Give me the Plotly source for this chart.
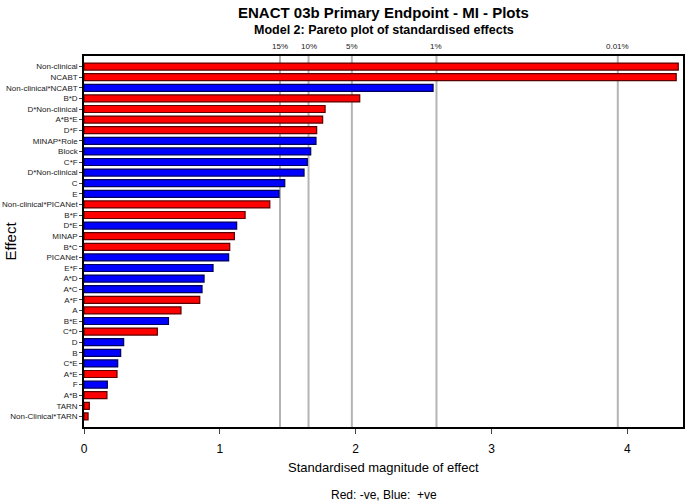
import plotly.graph_objects as go

effects = ["Non-clinical", "NCABT", "Non-clinical*NCABT", "B*D", "D*Non-clinical",
           "A*B*E", "D*F", "MINAP*Role", "Block", "C*F", "D*Non-clinical", "C", "E",
           "Non-clinical*PICANet", "B*F", "D*E", "MINAP", "B*C", "PICANet", "E*F",
           "A*D", "A*C", "A*F", "A", "B*E", "C*D", "D", "B", "C*E", "A*E", "F",
           "A*B", "TARN", "Non-Clinical*TARN"]
# signed standardised effects (red = negative, blue = positive)
values = [-4.375, -4.36, 2.57, -2.03, -1.775, -1.757, -1.713, 1.708, 1.669, 1.644,
          1.62, 1.478, 1.436, -1.368, -1.186, 1.124, -1.107, -1.073, 1.065, 0.95,
          0.884, 0.869, -0.852, -0.714, 0.622, -0.54, 0.292, 0.27, 0.248, -0.243,
          0.172, -0.169, -0.039, -0.03]
ref_levels = ["15%", "10%", "5%", "1%", "0.01%"]
ref_values = [1.443, 1.653, 1.972, 2.595, 3.93]

pos = list(range(len(effects)))
mags = [abs(v) for v in values]
fill = ["#FF0000" if v < 0 else "#0000FF" for v in values]
edge = ["#5a0000" if v < 0 else "#00005a" for v in values]

font = "Liberation Sans, Arial, sans-serif"

fig = go.Figure()
fig.add_trace(go.Bar(
    x=mags, y=pos, orientation="h", width=0.66,
    marker=dict(color=fill, line=dict(color=edge, width=1.2)),
    hoverinfo="skip", showlegend=False,
))

shapes = []
annotations = []
for lab, v in zip(ref_levels, ref_values):
    shapes.append(dict(type="line", xref="x", yref="paper", x0=v, x1=v, y0=0, y1=1,
                       line=dict(color="#b4b4b4", width=2), layer="below"))
    annotations.append(dict(x=v, y=1, xref="x", yref="paper", text=lab, showarrow=False,
                            yanchor="middle", yshift=10, font=dict(size=8, color="#222")))

annotations += [
    dict(x=0.5, y=1, xref="paper", yref="paper", yshift=44, yanchor="middle",
         text="<b>ENACT 03b Primary Endpoint - MI - Plots</b>", showarrow=False,
         font=dict(size=15, color="black")),
    dict(x=0.5, y=1, xref="paper", yref="paper", yshift=26, yanchor="middle",
         text="<b>Model 2: Pareto plot of standardised effects</b>", showarrow=False,
         font=dict(size=12.5, color="black")),
    dict(x=0.5, y=0, xref="paper", yref="paper", yshift=-40, yanchor="middle",
         text="Standardised magnitude of effect", showarrow=False,
         font=dict(size=13, color="black")),
    dict(x=0.5, y=0, xref="paper", yref="paper", yshift=-68, yanchor="middle",
         text="Red: -ve, Blue:  +ve", showarrow=False,
         font=dict(size=12, color="black")),
    dict(x=0, y=0.5, xref="paper", yref="paper", xshift=-74, xanchor="center",
         yanchor="middle", text="Effect", textangle=-90, showarrow=False,
         font=dict(size=15, color="black")),
]

fig.update_layout(
    width=685, height=504,
    margin=dict(l=84, r=2, t=56, b=77, autoexpand=False),
    paper_bgcolor="white", plot_bgcolor="white",
    font=dict(family=font, color="black"),
    shapes=shapes, annotations=annotations,
    bargap=0.3,
)
fig.update_xaxes(range=[0, 4.41], tickvals=[0, 1, 2, 3, 4], ticks="outside", ticklen=5,
                 showline=True, linecolor="black", linewidth=1.5, mirror=True,
                 showgrid=False, zeroline=False, tickfont=dict(size=12),
                 ticklabelstandoff=5, automargin=False)
fig.update_yaxes(range=[34, -1], tickvals=pos, ticktext=effects, ticks="outside",
                 ticklen=3, showline=True, linecolor="black", linewidth=1.5, mirror=True,
                 showgrid=False, zeroline=False, tickfont=dict(size=8, color="#222"),
                 automargin=False)

# remove the browser's default body margin so the figure fills the window exactly
fig.write_html("out.html", config={"displayModeBar": False},
               post_script="document.body.style.margin='0';")
